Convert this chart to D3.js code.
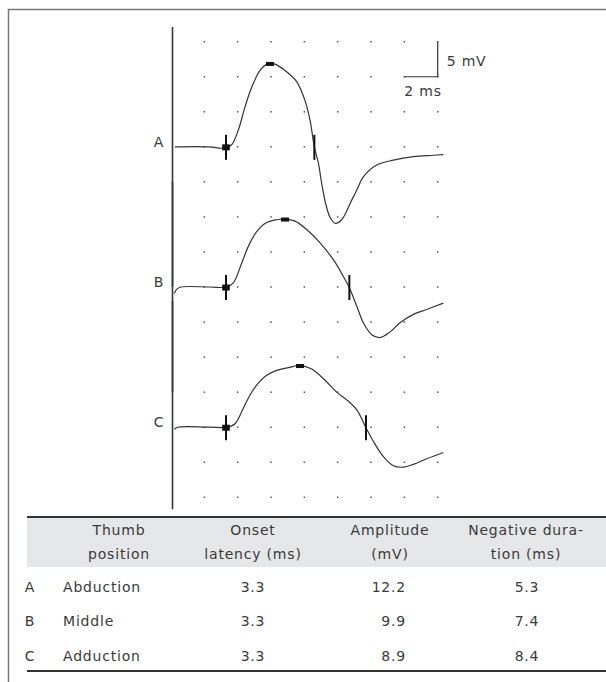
<!DOCTYPE html>
<html>
<head>
<meta charset="utf-8">
<script src="https://cdn.jsdelivr.net/npm/d3@7"></script>
<style>
  body { margin: 0; background: #fff; }
  svg text { font-family: "DejaVu Sans", sans-serif; fill: #3a3a3a; font-size: 14px; letter-spacing: 0.8px; }
</style>
</head>
<body>
<div id="chart"></div>
<script>
// traces: [time (ms), amplitude (mV) from baseline]
const traceNames = ["A", "B", "C"];
const traceOffsets = [0, -20, -40];   // mV shift of each baseline on the sheet
const traceA = [[0.24,0],[2.3,0],[3.0,-0.2],[3.3,-0.1],[3.64,0.3],[4.04,2.4],[4.44,5.7],[4.84,8.5],[5.34,10.9],[5.74,11.8],[5.94,11.9],[6.24,11.8],[6.94,10.7],[7.54,9.3],[8.04,6.6],[8.34,3.8],[8.6,0],[8.84,-2.3],[9.06,-5.5],[9.3,-8.3],[9.55,-10.1],[9.84,-10.9],[10.24,-10.4],[10.84,-7.6],[11.14,-6.2],[11.54,-4.3],[12.34,-2.6],[13.34,-1.9],[14.54,-1.4],[15.74,-1.2],[16.34,-1.1]];
const traceB = [[0.2,-0.9],[0.35,-0.3],[0.6,0],[2.34,0],[3.34,0],[3.74,0.6],[4.24,3.4],[4.64,5.8],[5.14,7.9],[5.74,9.2],[6.34,9.6],[6.84,9.7],[7.44,9.4],[8.14,8.2],[8.94,6.3],[9.74,3.9],[10.34,1.5],[10.68,0],[11.14,-2.7],[11.54,-5.1],[12.04,-6.8],[12.54,-7.2],[13.14,-6.4],[13.74,-5.1],[14.54,-3.9],[15.34,-3.2],[16.34,-2.3]];
const traceC = [[0.2,-0.3],[0.4,0],[2.34,0],[3.34,0],[3.84,0.5],[4.34,2.7],[4.74,4.6],[5.24,6.3],[5.74,7.4],[6.34,8.1],[7.04,8.5],[7.74,8.8],[8.44,8.3],[9.24,6.7],[9.94,5.0],[10.54,3.9],[11.14,2.5],[11.68,0],[12.14,-2.0],[12.74,-4.2],[13.34,-5.5],[13.94,-5.7],[14.54,-5.3],[15.34,-4.5],[16.34,-3.6]];
const artifacts = [[17.1, -20], [15, -15], [18, -11.7]];  // stimulus artefact top/bottom (mV from baseline)
const peakTimes = [5.94, 6.84, 7.74];
const peakValues = [11.9, 9.7, 8.8];

// table
const positions = ["Abduction", "Middle", "Adduction"];
const onsetLatency = [3.3, 3.3, 3.3];
const amplitude = [12.2, 9.9, 8.9];
const negDuration = [5.3, 7.4, 8.4];
const headers = [["Thumb", "position"], ["Onset", "latency (ms)"], ["Amplitude", "(mV)"], ["Negative dura-", "tion (ms)"]];

// dotted grid
const gridTimes = [2, 4, 6, 8, 10, 12, 14, 16];
const gridLevels = [15, 10, 5, 0, -5, -10, -15, -20, -25, -30, -35, -40, -45, -50];

const width = 606, height = 682;
const ink = "#333";

const svg = d3.select("#chart").append("svg")
    .attr("width", width)
    .attr("height", height);

// frame (top and left)
svg.append("path")
    .attr("d", "M8.5,682 V9.5 H606")
    .attr("fill", "none")
    .attr("stroke", "#777")
    .attr("stroke-width", 1.5);

const x = d3.scaleLinear().domain([0, 16]).range([171, 437.7]);
const y = d3.scaleLinear().domain([15, -50]).range([41.7, 497.3]);

// grid dots
const dots = [];
gridLevels.forEach(v => gridTimes.forEach(t => dots.push([t, v])));
svg.append("g").selectAll("rect")
    .data(dots)
    .enter()
    .append("rect")
    .attr("x", d => x(d[0]) - 0.75)
    .attr("y", d => y(d[1]) - 0.75)
    .attr("width", 1.5)
    .attr("height", 1.5)
    .attr("fill", "#555");

const traces = [traceA, traceB, traceC];
const line = d3.line()
    .x(d => x(d[0]))
    .y(d => y(d[1]))
    .curve(d3.curveCatmullRom.alpha(0.5));

traces.forEach((tr, i) => {
    const off = traceOffsets[i];
    const g = svg.append("g");

    // stimulus artefact
    g.append("line")
        .attr("x1", x(0.09)).attr("x2", x(0.09))
        .attr("y1", y(artifacts[i][0] + off))
        .attr("y2", y(artifacts[i][1] + off))
        .attr("stroke", ink)
        .attr("stroke-width", 1.6);

    g.append("path")
        .datum(tr.map(d => [d[0], d[1] + off]))
        .attr("d", line)
        .attr("fill", "none")
        .attr("stroke", ink)
        .attr("stroke-width", 1.2);

    const base = y(off);

    // onset marker: tick + square
    const xo = x(onsetLatency[i]);
    g.append("line")
        .attr("x1", xo).attr("x2", xo)
        .attr("y1", base - 12).attr("y2", base + 13)
        .attr("stroke", "#111").attr("stroke-width", 2);
    g.append("rect")
        .attr("x", xo - 3.8).attr("y", base - 2.5)
        .attr("width", 7.6).attr("height", 6)
        .attr("fill", "#111");

    // peak marker
    g.append("rect")
        .attr("x", x(peakTimes[i]) - 4)
        .attr("y", y(peakValues[i] + off) - 1.5)
        .attr("width", 8).attr("height", 4)
        .attr("fill", "#111");

    // end of negative phase
    const xe = x(onsetLatency[i] + negDuration[i]);
    g.append("line")
        .attr("x1", xe).attr("x2", xe)
        .attr("y1", base - 12).attr("y2", base + 13)
        .attr("stroke", "#111").attr("stroke-width", 2);

    svg.append("text")
        .attr("x", 159)
        .attr("y", base)
        .style("text-anchor", "middle")
        .text(traceNames[i]);
});

// calibration bar: 2 ms x 5 mV
svg.append("path")
    .attr("d", `M${x(14)},${y(10)} H${x(16)} V${y(15)}`)
    .attr("fill", "none")
    .attr("stroke", ink)
    .attr("stroke-width", 1.2);
svg.append("text")
    .attr("x", x(16) + 9)
    .attr("y", 65.5)
    .text("5 mV");
svg.append("text")
    .attr("x", x(14))
    .attr("y", 96)
    .text("2 ms");

// ---- table ----
const tableLeft = 27;
svg.append("rect")
    .attr("x", tableLeft).attr("y", 517)
    .attr("width", width - tableLeft).attr("height", 50)
    .attr("fill", "#e6e7e8");
svg.append("line")
    .attr("x1", tableLeft).attr("x2", width)
    .attr("y1", 517).attr("y2", 517)
    .attr("stroke", "#333").attr("stroke-width", 2);
svg.append("line")
    .attr("x1", tableLeft).attr("x2", width)
    .attr("y1", 671).attr("y2", 671)
    .attr("stroke", "#333").attr("stroke-width", 2);

const headerX = [119, 253, 390, 526];
headers.forEach((h, j) => {
    h.forEach((s, k) => {
        svg.append("text")
            .attr("x", headerX[j])
            .attr("y", 535 + k * 24)
            .style("text-anchor", "middle")
            .text(s);
    });
});

const rowY = [592, 626, 661];
traceNames.forEach((n, i) => {
    svg.append("text").attr("x", 30).attr("y", rowY[i])
        .style("text-anchor", "middle").text(n);
    svg.append("text").attr("x", 63).attr("y", rowY[i])
        .text(positions[i]);
    svg.append("text").attr("x", 253).attr("y", rowY[i])
        .style("text-anchor", "middle").text(onsetLatency[i].toFixed(1));
    svg.append("text").attr("x", 406).attr("y", rowY[i])
        .style("text-anchor", "end").text(amplitude[i].toFixed(1));
    svg.append("text").attr("x", 527).attr("y", rowY[i])
        .style("text-anchor", "middle").text(negDuration[i].toFixed(1));
});
</script>
</body>
</html>
